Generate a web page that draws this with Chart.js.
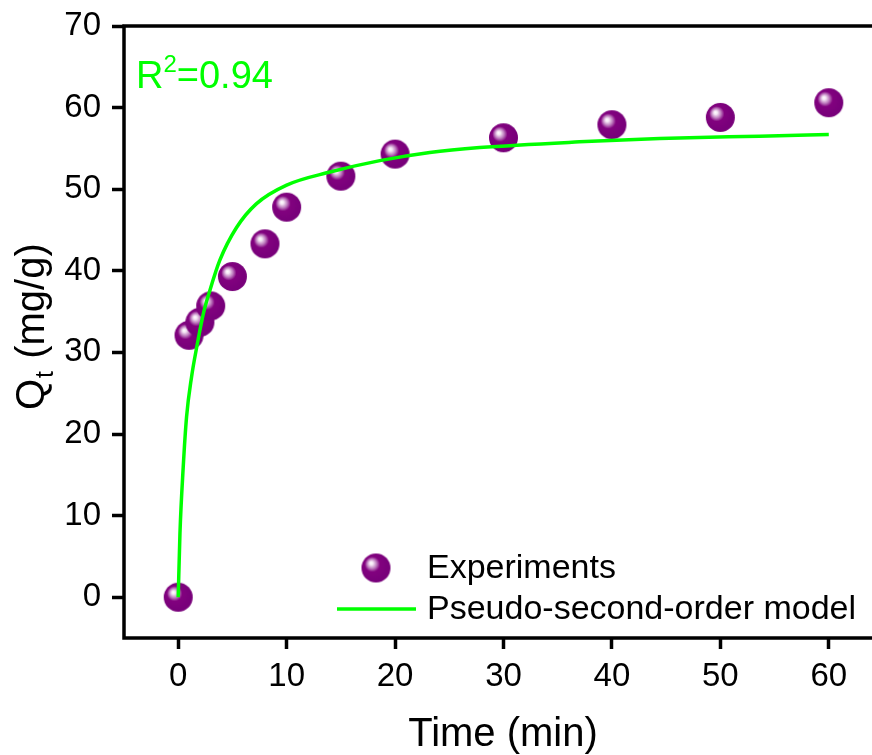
<!DOCTYPE html>
<html>
<head>
<meta charset="utf-8">
<script src="https://cdn.jsdelivr.net/npm/chart.js@4.4.0/dist/chart.umd.min.js"></script>
<style>
  html, body { margin: 0; padding: 0; background: #fff; overflow: hidden; }
  #wrap { width: 884px; height: 755px; }
</style>
</head>
<body>
<div id="wrap"><canvas id="kinetics" width="884" height="755"></canvas></div>
<script>
// experimental adsorption points
const timeMin = [0, 1, 2, 3, 5, 8, 10, 15, 20, 30, 40, 50, 60];
const qtExp = [0, 32.1, 33.7, 35.7, 39.3, 43.3, 47.8, 51.6, 54.3, 56.3, 57.9, 58.8, 60.6];

// fitted curve
const modelTime = [0, 0.16, 0.46, 0.77, 1.23, 1.7, 2.31, 2.92, 3.84, 5.38, 7.2, 10, 14, 18.6, 23.2, 27.8, 37, 44.4, 53.6, 60];
const modelQt = [0, 7.8, 15.9, 22.1, 27.0, 30.6, 34.7, 37.6, 41.3, 45.3, 48.2, 50.5, 52.1, 53.5, 54.5, 55.1, 55.8, 56.2, 56.5, 56.7];

const xTicks = [0, 10, 20, 30, 40, 50, 60];
const yTicks = [0, 10, 20, 30, 40, 50, 60, 70];

const FONT = '"Liberation Sans", Arial, sans-serif';

// shiny purple ball used as point style
function makeBall(r) {
    const c = document.createElement('canvas');
    c.width = c.height = r * 2 + 2;
    const g = c.getContext('2d');
    const cx = r + 1, cy = r + 1;
    const grad = g.createRadialGradient(cx - r * 0.35, cy - r * 0.35, 0, cx - r * 0.15, cy - r * 0.15, r * 1.05);
    grad.addColorStop(0, '#ffffff');
    grad.addColorStop(0.12, '#f4e6f4');
    grad.addColorStop(0.32, '#bc78bc');
    grad.addColorStop(0.5, '#82027f');
    grad.addColorStop(1, '#78007a');
    g.fillStyle = grad;
    g.beginPath();
    g.arc(cx, cy, r, 0, Math.PI * 2);
    g.fill();
    return c;
}
const ball = makeBall(14.5);

const decorations = {
    id: 'decorations',
    afterDraw(chart) {
        const ctx = chart.ctx;
        const a = chart.chartArea;
        ctx.save();
        // frame
        ctx.strokeStyle = '#000';
        ctx.lineWidth = 3.5;
        ctx.strokeRect(a.left, a.top, a.right - a.left, a.bottom - a.top);

        // R^2 label
        ctx.fillStyle = '#00ff00';
        ctx.textBaseline = 'alphabetic';
        ctx.textAlign = 'left';
        ctx.font = '38px ' + FONT;
        ctx.fillText('R', 136, 88);
        let w = ctx.measureText('R').width;
        ctx.font = '24px ' + FONT;
        ctx.fillText('2', 136 + w, 72);
        const w2 = ctx.measureText('2').width;
        ctx.font = '38px ' + FONT;
        ctx.fillText('=0.94', 136 + w + w2, 88);

        // y title with subscript
        ctx.fillStyle = '#000';
        ctx.translate(44, 410);
        ctx.rotate(-Math.PI / 2);
        ctx.font = '40px ' + FONT;
        ctx.fillText('Q', 0, 0);
        w = ctx.measureText('Q').width;
        ctx.font = '25px ' + FONT;
        ctx.fillText('t', w + 1, 9);
        const wt = ctx.measureText('t').width;
        ctx.font = '40px ' + FONT;
        ctx.fillText(' (mg/g)', w + wt + 2, 0);
        ctx.restore();

        // x title
        ctx.save();
        ctx.fillStyle = '#000';
        ctx.font = '40px ' + FONT;
        ctx.textAlign = 'center';
        ctx.textBaseline = 'alphabetic';
        ctx.fillText('Time (min)', 503, 746);

        // legend
        const ds = chart.data.datasets;
        ctx.textAlign = 'left';
        ctx.textBaseline = 'middle';
        ctx.font = '34px ' + FONT;
        ctx.drawImage(ball, 376 - ball.width / 2, 568 - ball.height / 2);
        ctx.fillText(ds[1].label, 427, 569);
        ctx.strokeStyle = '#00ff00';
        ctx.lineWidth = 3.5;
        ctx.beginPath();
        ctx.moveTo(337, 609);
        ctx.lineTo(416, 609);
        ctx.stroke();
        ctx.fillText(ds[0].label, 427, 610);
        ctx.restore();
    }
};

new Chart(document.getElementById('kinetics'), {
    type: 'scatter',
    data: {
        datasets: [
            {
                type: 'line',
                label: 'Pseudo-second-order model',
                data: modelTime.map((t, i) => ({ x: t, y: modelQt[i] })),
                borderColor: '#00ff00',
                borderWidth: 3.5,
                pointRadius: 0,
                cubicInterpolationMode: 'monotone',
                fill: false,
                order: 1
            },
            {
                label: 'Experiments',
                data: timeMin.map((t, i) => ({ x: t, y: qtExp[i] })),
                pointStyle: ball,
                pointRadius: 14.5,
                order: 2
            }
        ]
    },
    options: {
        responsive: false,
        animation: false,
        layout: { autoPadding: false, padding: { top: 26, right: 1, left: 0, bottom: 0 } },
        plugins: { legend: { display: false }, tooltip: { enabled: false } },
        scales: {
            x: {
                type: 'linear',
                min: -5,
                max: 65,
                afterBuildTicks: s => { s.ticks = xTicks.map(v => ({ value: v })); },
                afterFit: s => { s.height = 117; s.paddingLeft = 0; s.paddingRight = 0; },
                border: { display: false },
                grid: { drawOnChartArea: false, drawTicks: true, tickLength: 11, tickWidth: 3.5, tickColor: '#000' },
                ticks: { color: '#000', font: { family: FONT, size: 33 }, padding: 8, maxRotation: 0 }
            },
            y: {
                type: 'linear',
                min: -5,
                max: 70,
                afterBuildTicks: s => { s.ticks = yTicks.map(v => ({ value: v })); },
                afterFit: s => { s.width = 124; s.paddingTop = 0; s.paddingBottom = 0; },
                border: { display: false },
                grid: { drawOnChartArea: false, drawTicks: true, tickLength: 12, tickWidth: 3.5, tickColor: '#000' },
                ticks: { color: '#000', font: { family: FONT, size: 33 }, padding: 11 }
            }
        }
    },
    plugins: [decorations]
});
</script>
</body>
</html>
